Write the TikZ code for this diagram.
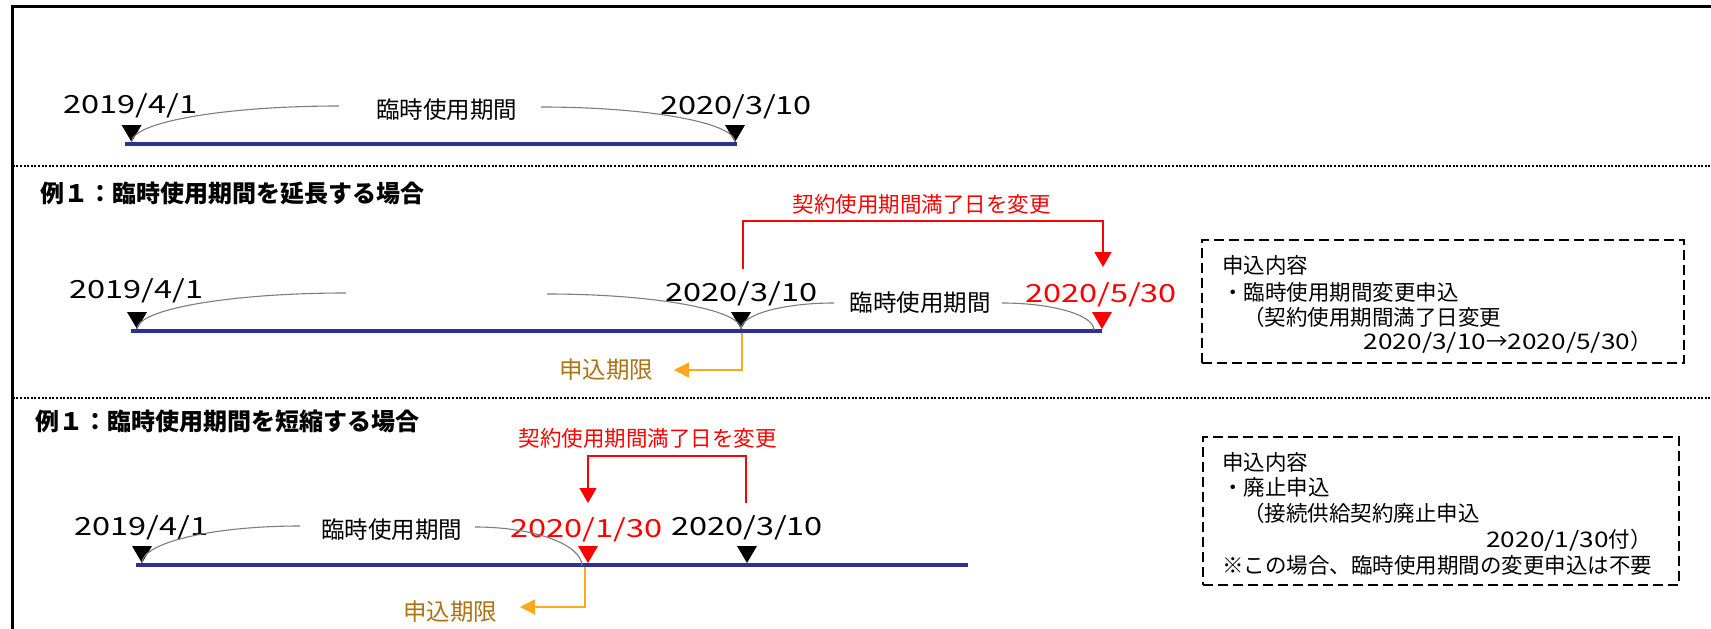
\documentclass[tikz,border=0pt]{standalone}
\usepackage{fontspec}
\usepackage{graphicx}
\setmainfont{Noto Sans CJK JP}
\usetikzlibrary{arrows.meta,calc}
\definecolor{navy}{RGB}{46,49,146}
\definecolor{goldtxt}{RGB}{170,115,20}
\definecolor{orng}{RGB}{255,168,30}
\definecolor{arcgray}{RGB}{125,125,125}
\newcommand{\dte}[1]{\scalebox{1.3}[1]{#1}}
\newcommand{\bdt}[1]{\scalebox{1.22}[1]{#1}}
\newcommand{\tri}[2]{\fill[#2] (#1) ++(-10,17) -- ++(20,0) -- ++(-10,-17) -- cycle;}
\newcommand{\qarcup}[2]{\draw[arcline] (#1) .. controls ($(#1)!0.552!(#1 |- #2)$) and ($(#2)!0.552!(#1 |- #2)$) .. (#2);}
\newcommand{\qarcdn}[2]{\draw[arcline] (#1) .. controls ($(#1)!0.552!(#2 |- #1)$) and ($(#2)!0.552!(#2 |- #1)$) .. (#2);}
\begin{document}
\begin{tikzpicture}[x=1pt,y=1pt,
  date/.style={inner sep=0pt, font=\fontsize{25}{28}\selectfont},
  lbl/.style={inner sep=0pt, font=\fontsize{23.5}{26}\selectfont},
  ttl/.style={inner sep=0pt, anchor=west, font=\fontsize{24}{28}\selectfont\bfseries},
  redlbl/.style={inner sep=0pt, text=red, font=\fontsize{21.5}{24}\selectfont},
  boxtxt/.style={inner sep=0pt, font=\fontsize{21.5}{24}\selectfont},
  timeline/.style={draw=navy, line width=4.5pt},
  arcline/.style={draw=arcgray, line width=1.1pt},
  redconn/.style={draw=red, line width=1.3pt, -{Triangle[length=15pt,width=17pt]}},
  orconn/.style={draw=orng, line width=1.6pt, -{Triangle[length=15pt,width=15pt]}},
  deadline/.style={inner sep=0pt, text=goldtxt, font=\fontsize{23.5}{26}\selectfont},
  sep/.style={draw=black, line width=2pt, dash pattern=on 2pt off 1.6pt},
  dbox/.style={draw=black, line width=2pt, dash pattern=on 10pt off 5pt, inner sep=0pt}
]
\useasboundingbox (0,-629) rectangle (1711,0);

% frame
\coordinate (fbl) at (12.8,-640);
\coordinate (ftl) at (12.8,-6);
\coordinate (ftr) at (1720,-6);
\draw[line width=3pt] (fbl) -- (ftl) -- (ftr);
\coordinate (sep1a) at (12.8,-166); \coordinate (sep1b) at (1711,-166);
\coordinate (sep2a) at (12.8,-398); \coordinate (sep2b) at (1711,-398);
\draw[sep] (sep1a) -- (sep1b);
\draw[sep] (sep2a) -- (sep2b);

% ---------- section 1 ----------
\coordinate (s1L) at (125,-144); \coordinate (s1R) at (737,-144);
\draw[timeline] (s1L) -- (s1R);
\coordinate (s1a) at (131.6,-142); \coordinate (s1b) at (735,-142);
\tri{s1a}{black} \tri{s1b}{black}
\node[date] (s1d1) at (130.5,-106) {\dte{2019/4/1}};
\node[date] (s1d2) at (736,-107) {\dte{2020/3/10}};
\node[lbl] (s1p) at (446.5,-110) {臨時使用期間};
\coordinate (s1e1) at (339,-106); \coordinate (s1e2) at (541,-107);
\qarcup{s1a}{s1e1}
\qarcdn{s1e2}{s1b}

% ---------- section 2 ----------
\node[ttl] (s2t) at (40,-193) {例１：臨時使用期間を延長する場合};
\node[redlbl] (s2r) at (921.5,-204) {契約使用期間満了日を変更};
\coordinate (s2b1) at (743,-269); \coordinate (s2bt) at (920,-221); \coordinate (s2b2) at (1103,-267);
\draw[redconn] (s2b1) |- (s2bt) -| (s2b2);
\coordinate (s2L) at (131,-331); \coordinate (s2R) at (1102,-331);
\draw[timeline] (s2L) -- (s2R);
\coordinate (s2a) at (137,-329); \coordinate (s2b) at (741,-329); \coordinate (s2c) at (1102,-329);
\tri{s2a}{black} \tri{s2b}{black} \tri{s2c}{red}
\node[date] (s2d1) at (136.5,-291) {\dte{2019/4/1}};
\node[date] (s2d2) at (741.5,-294) {\dte{2020/3/10}};
\node[date, text=red] (s2d3) at (1101,-294.5) {\dte{2020/5/30}};
\node[lbl] (s2p) at (920,-303) {臨時使用期間};
\coordinate (s2e1) at (346,-293); \coordinate (s2e2) at (547,-294);
\coordinate (s2e3) at (834,-303); \coordinate (s2e4) at (1002,-303);
\coordinate (s2f) at (1094,-330);
\qarcup{s2a}{s2e1}
\qarcdn{s2e2}{s2b}
\qarcup{s2b}{s2e3}
\qarcdn{s2e4}{s2f}
\coordinate (s2o1) at (742,-333); \coordinate (s2o2) at (674,-370);
\draw[orconn] (s2o1) |- (s2o2);
\node[deadline] (s2dl) at (606,-370) {申込期限};
\node[dbox, minimum width=482pt, minimum height=123pt] (box1) at (1443,-301.5) {};
\node[boxtxt, anchor=west] (b1l1) at (1222,-265) {申込内容};
\node[boxtxt, anchor=west] (b1l2) at (1222,-292) {・臨時使用期間変更申込};
\node[boxtxt, anchor=west] (b1l3) at (1243,-317) {（契約使用期間満了日変更};
\node[boxtxt, anchor=east] (b1l4) at (1652,-342) {\bdt{2020/3/10}→\bdt{2020/5/30}）};

% ---------- section 3 ----------
\node[ttl] (s3t) at (35,-421) {例１：臨時使用期間を短縮する場合};
\node[redlbl] (s3r) at (647.5,-438) {契約使用期間満了日を変更};
\coordinate (s3b1) at (746,-503); \coordinate (s3bt) at (667,-456); \coordinate (s3b2) at (588,-503);
\draw[redconn] (s3b1) |- (s3bt) -| (s3b2);
\coordinate (s3L) at (136,-565); \coordinate (s3R) at (968,-565);
\draw[timeline] (s3L) -- (s3R);
\coordinate (s3a) at (142,-563); \coordinate (s3c) at (588,-563); \coordinate (s3b) at (747,-563);
\tri{s3a}{black} \tri{s3c}{red} \tri{s3b}{black}
\node[date] (s3d1) at (141.5,-527.5) {\dte{2019/4/1}};
\node[lbl] (s3p) at (391.5,-530) {臨時使用期間};
\node[date, text=red] (s3d2) at (586.5,-529.5) {\dte{2020/1/30}};
\node[date] (s3d3) at (747,-527.5) {\dte{2020/3/10}};
\coordinate (s3e1) at (300,-526); \coordinate (s3e2) at (475,-527); \coordinate (s3f) at (582,-566);
\qarcup{s3a}{s3e1}
\qarcdn{s3e2}{s3f}
\coordinate (s3o1) at (585,-567); \coordinate (s3o2) at (520,-607);
\draw[orconn] (s3o1) |- (s3o2);
\node[deadline] (s3dl) at (450,-612) {申込期限};
\node[dbox, minimum width=476pt, minimum height=148pt] (box2) at (1441,-511) {};
\node[boxtxt, anchor=west] (b2l1) at (1222,-462) {申込内容};
\node[boxtxt, anchor=west] (b2l2) at (1222,-487) {・廃止申込};
\node[boxtxt, anchor=west] (b2l3) at (1243,-513) {（接続供給契約廃止申込};
\node[boxtxt, anchor=east] (b2l4) at (1652,-540) {\bdt{2020/1/30}付）};
\node[boxtxt, anchor=west] (b2l5) at (1222,-565) {※この場合、臨時使用期間の変更申込は不要};
\end{tikzpicture}
\end{document}
